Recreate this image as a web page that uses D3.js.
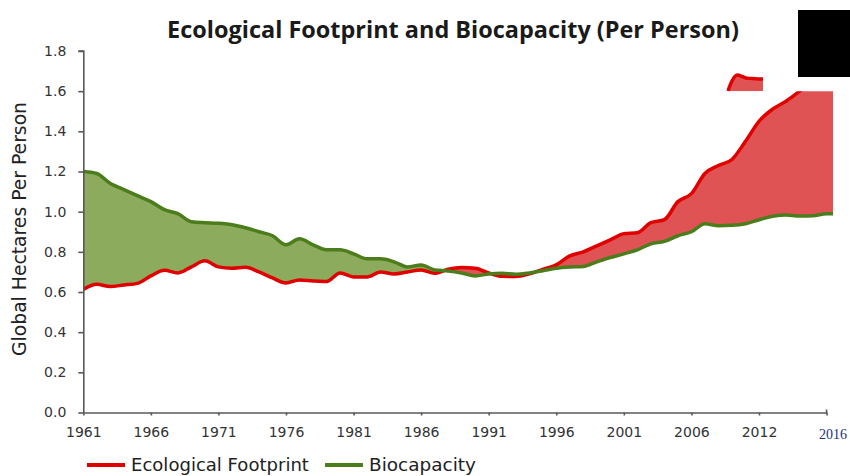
<!DOCTYPE html>
<html>
<head>
<meta charset="utf-8">
<script src="https://cdn.jsdelivr.net/npm/d3@7"></script>
<style>
	body { margin: 0; background: #fff; }
	svg text { font-family: "Open Sans", "DejaVu Sans", sans-serif; }
</style>
</head>
<body>
<div id="chart"></div>
<script>
const WIDTH = 850;
const HEIGHT = 476;

const years = d3.range(1961, 2017);

// global hectares per person
const footprint = [
	0.613, 0.638, 0.627, 0.635, 0.643, 0.68, 0.708, 0.695, 0.725, 0.755,
	0.725, 0.718, 0.723, 0.7, 0.67, 0.645, 0.66, 0.655, 0.652, 0.695,
	0.675, 0.675, 0.7, 0.69, 0.7, 0.71, 0.693, 0.713, 0.722, 0.718,
	0.695, 0.678, 0.677, 0.69, 0.713, 0.735, 0.78, 0.8, 0.83, 0.86,
	0.89, 0.895, 0.945, 0.96, 1.05, 1.09, 1.19, 1.23, 1.26, 1.35,
	1.45, 1.51, 1.55, 1.6, 1.66, 1.72,
];
const biocapacity = [
	1.2, 1.19, 1.14, 1.11, 1.08, 1.05, 1.01, 0.99, 0.95, 0.945,
	0.942, 0.935, 0.92, 0.9, 0.88, 0.835, 0.865, 0.835, 0.81, 0.81,
	0.79, 0.765, 0.765, 0.75, 0.725, 0.735, 0.71, 0.705, 0.695, 0.68,
	0.69, 0.693, 0.688, 0.695, 0.706, 0.718, 0.724, 0.727, 0.75, 0.772,
	0.79, 0.81, 0.84, 0.852, 0.88, 0.9, 0.94, 0.93, 0.932, 0.94,
	0.96, 0.977, 0.984, 0.978, 0.98, 0.99,
];

// stray fragment of the footprint line left in the top of the picture
const fragmentYears = [2008.7, 2009.0, 2009.4, 2009.8, 2010.1, 2010.7, 2011.3];
const fragmentValues = [1.6, 1.65, 1.68, 1.672, 1.665, 1.662, 1.66];

const xTickValues = [1961, 1966, 1971, 1976, 1981, 1986, 1991, 1996, 2001, 2006, 2011, 2016];
const xTickLabels = ["1961", "1966", "1971", "1976", "1981", "1986", "1991", "1996", "2001", "2006", "2012", "2016"];
const yTickValues = [0, 0.2, 0.4, 0.6, 0.8, 1.0, 1.2, 1.4, 1.6, 1.8];

const seriesNames = ["Ecological Footprint", "Biocapacity"];

const RED_LINE = "#e00000";
const RED_FILL = "#e05354";
const GREEN_LINE = "#4c7d1c";
const GREEN_FILL = "#8dab5c";
const AXIS = "#595959";

const data = years.map((yr, i) => ({ year: yr, foot: footprint[i], bio: biocapacity[i] }));

const svg = d3
	.select("#chart")
	.append("svg")
	.attr("width", WIDTH)
	.attr("height", HEIGHT)
	.style("display", "block");

svg.append("rect").attr("width", WIDTH).attr("height", HEIGHT).attr("fill", "#fff");

const xScale = d3.scaleLinear().domain([1961, 2016.5]).range([83.3, 833.3]);
const yScale = d3.scaleLinear().domain([0, 1.8]).range([412.5, 51]);
const curve = d3.curveMonotoneX;

// the last year's values run on to the right edge of the plot
const last = data[data.length - 1];
const plotData = data.concat([{ year: xScale.domain()[1], foot: last.foot, bio: last.bio }]);

const defs = svg.append("defs");

// plot window: the picture is cut off just above 1.6
defs.append("clipPath")
	.attr("id", "plot-clip")
	.append("rect")
	.attr("x", xScale(1961))
	.attr("y", yScale(1.6))
	.attr("width", xScale.range()[1] - xScale(1961))
	.attr("height", yScale(0) - yScale(1.6));

defs.append("clipPath")
	.attr("id", "above-foot")
	.append("path")
	.attr("d", d3.area().curve(curve).x((d) => xScale(d.year)).y0(0).y1((d) => yScale(d.foot))(plotData));

defs.append("clipPath")
	.attr("id", "above-bio")
	.append("path")
	.attr("d", d3.area().curve(curve).x((d) => xScale(d.year)).y0(0).y1((d) => yScale(d.bio))(plotData));

const between = d3
	.area()
	.curve(curve)
	.x((d) => xScale(d.year))
	.y0((d) => yScale(d.foot))
	.y1((d) => yScale(d.bio));

const plot = svg.append("g").attr("clip-path", "url(#plot-clip)");

// biocapacity reserve (green) and deficit (red)
plot.append("g")
	.attr("clip-path", "url(#above-foot)")
	.append("path")
	.attr("d", between(plotData))
	.attr("fill", GREEN_FILL);

plot.append("g")
	.attr("clip-path", "url(#above-bio)")
	.append("path")
	.attr("d", between(plotData))
	.attr("fill", RED_FILL);

plot.append("path")
	.attr("d", d3.line().x((d) => xScale(d.year)).y((d) => yScale(d.foot)).curve(curve)(plotData))
	.attr("fill", "none")
	.attr("stroke", RED_LINE)
	.attr("stroke-width", 3.5)
	.attr("stroke-linejoin", "round");

plot.append("path")
	.attr("d", d3.line().x((d) => xScale(d.year)).y((d) => yScale(d.bio)).curve(curve)(plotData))
	.attr("fill", "none")
	.attr("stroke", GREEN_LINE)
	.attr("stroke-width", 3.5)
	.attr("stroke-linejoin", "round");

// fragment above the cut
const fragment = fragmentYears.map((yr, i) => ({ year: yr, v: fragmentValues[i] }));
defs.append("clipPath")
	.attr("id", "fragment-clip")
	.append("rect")
	.attr("x", xScale(2008.6))
	.attr("y", yScale(1.8))
	.attr("width", xScale(2011.3) - xScale(2008.6))
	.attr("height", yScale(1.6) - yScale(1.8));

const fragG = svg.append("g").attr("clip-path", "url(#fragment-clip)");
fragG.append("path")
	.attr("d", d3.area().x((d) => xScale(d.year)).y0(yScale(1.6)).y1((d) => yScale(d.v)).curve(curve)(fragment))
	.attr("fill", RED_FILL);
fragG.append("path")
	.attr("d", d3.line().x((d) => xScale(d.year)).y((d) => yScale(d.v)).curve(curve)(fragment))
	.attr("fill", "none")
	.attr("stroke", RED_LINE)
	.attr("stroke-width", 3.5);

// axes
const yAxis = svg
	.append("g")
	.attr("transform", `translate(${xScale(1961)},0)`)
	.call(d3.axisLeft(yScale).tickValues(yTickValues).tickFormat(d3.format(".1f")).tickSize(5).tickPadding(12));

const xAxis = svg
	.append("g")
	.attr("transform", `translate(0,${yScale(0)})`)
	.call(
		d3.axisBottom(xScale)
			.tickValues(xTickValues)
			.tickFormat((d, i) => xTickLabels[i])
			.tickSize(3)
			.tickPadding(12)
	);

xAxis.select(".domain").attr("d", `M${xScale(1961)},0.5H${xScale(2016)}V-3`);
yAxis.select(".domain").attr("d", `M-5,${yScale(1.8)}H0.5V${yScale(0)}`);

[xAxis, yAxis].forEach((ax) => {
	ax.select(".domain").attr("stroke", AXIS).attr("stroke-width", 1.6).attr("fill", "none");
	ax.selectAll(".tick line").attr("stroke", AXIS).attr("stroke-width", 1.6);
	ax.selectAll(".tick text")
		.attr("fill", "#333")
		.style("font-family", '"DejaVu Sans", sans-serif')
		.style("font-size", "14px");
});

// the last year label is a different colour and face in the picture
xAxis.selectAll(".tick text")
	.filter((d) => d === 2016)
	.attr("fill", "#22307a")
	.attr("dx", 6)
	.attr("dy", "0.85em")
	.style("font-family", '"Liberation Serif", serif')
	.style("font-size", "14px");

function fitText(sel, width) {
	const w = sel.node().getComputedTextLength();
	const fs = parseFloat(sel.style("font-size"));
	sel.style("font-size", (fs * width) / w + "px");
}

// title
const title = svg
	.append("text")
	.attr("x", 453)
	.attr("y", 38)
	.attr("text-anchor", "middle")
	.attr("fill", "#1a1a1a")
	.style("font-weight", "bold")
	.style("font-size", "19px")
	.text("Ecological Footprint and Biocapacity (Per Person)");
fitText(title, 572);

// y label
const yLabel = svg
	.append("text")
	.attr("transform", "translate(26,229) rotate(-90)")
	.attr("text-anchor", "middle")
	.attr("fill", "#222")
	.style("font-family", '"DejaVu Sans", sans-serif')
	.style("font-size", "16px")
	.text("Global Hectares Per Person");
fitText(yLabel, 254);

// legend
const legendItems = [
	{ name: seriesNames[0], color: RED_LINE, x: 87, width: 178 },
	{ name: seriesNames[1], color: GREEN_LINE, x: 325, width: 107 },
];
const legend = svg.append("g").attr("class", "legend");
legendItems.forEach((item) => {
	legend.append("line")
		.attr("x1", item.x)
		.attr("x2", item.x + 38)
		.attr("y1", 465)
		.attr("y2", 465)
		.attr("stroke", item.color)
		.attr("stroke-width", 4);
	const t = legend.append("text")
		.attr("x", item.x + 44)
		.attr("y", 471)
		.attr("fill", "#222")
		.style("font-family", '"DejaVu Sans", sans-serif')
		.style("font-size", "16px")
		.text(item.name);
	fitText(t, item.width);
});

// redaction block in the top right corner
svg.append("rect")
	.attr("x", 798)
	.attr("y", 10)
	.attr("width", 52)
	.attr("height", 67)
	.attr("fill", "#000");
</script>
</body>
</html>
